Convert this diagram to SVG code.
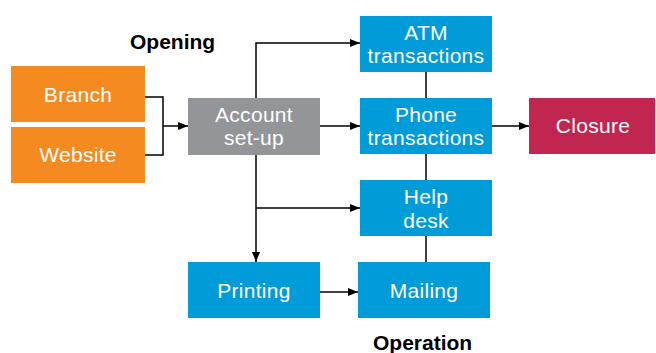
<svg xmlns="http://www.w3.org/2000/svg" width="656" height="353" viewBox="0 0 656 353">
<style>
.box text{font-family:"Liberation Sans",Arial,sans-serif;font-size:21px;letter-spacing:0.3px;fill:#fff;text-anchor:middle}
.orange{fill:#F58A21}
.blue{fill:#009BD9}
.gray{fill:#939598}
.red{fill:#C12651}
.lbl{font-family:"Liberation Sans",Arial,sans-serif;font-size:21px;font-weight:bold;fill:#000}
.conn path{fill:none;stroke:#000;stroke-width:1.5}
</style>
<defs>
<marker id="arr" viewBox="0 0 10 8" refX="10" refY="4" markerWidth="10" markerHeight="8" markerUnits="userSpaceOnUse" orient="auto">
<path d="M0,0 L10,4 L0,8 Z" fill="#000"/>
</marker>
</defs>
<rect width="656" height="353" fill="#fff"/>
<g class="conn">
<path d="M145,97 H163 V155 H145"/>
<path d="M163,126 H188" marker-end="url(#arr)"/>
<path d="M320,126 H360" marker-end="url(#arr)"/>
<path d="M256,98 V43 H360" marker-end="url(#arr)"/>
<path d="M256,155 V262" marker-end="url(#arr)"/>
<path d="M256,208 H360" marker-end="url(#arr)"/>
<path d="M320,292 H358" marker-end="url(#arr)"/>
<path d="M492,126 H529" marker-end="url(#arr)"/>
<path d="M426,72 V98"/>
<path d="M426,154 V180"/>
<path d="M426,236 V262"/>
</g>
<g id="branch" class="box"><rect class="orange" x="11" y="66" width="134" height="56"/><text x="78" y="102">Branch</text></g>
<g id="website" class="box"><rect class="orange" x="11" y="127" width="134" height="56"/><text x="78" y="162">Website</text></g>
<g id="account" class="box"><rect class="gray" x="188" y="98" width="132" height="57"/><text x="254" y="122">Account</text><text x="254" y="145">set-up</text></g>
<g id="atm" class="box"><rect class="blue" x="360" y="16" width="132" height="56"/><text x="426" y="39.5">ATM</text><text x="426" y="63">transactions</text></g>
<g id="phone" class="box"><rect class="blue" x="360" y="98" width="132" height="56"/><text x="426" y="122">Phone</text><text x="426" y="145">transactions</text></g>
<g id="helpdesk" class="box"><rect class="blue" x="360" y="180" width="132" height="56"/><text x="426" y="203.5">Help</text><text x="426" y="227.5">desk</text></g>
<g id="printing" class="box"><rect class="blue" x="188" y="262" width="132" height="56"/><text x="254" y="297.5">Printing</text></g>
<g id="mailing" class="box"><rect class="blue" x="358" y="262" width="132" height="56"/><text x="424" y="297.5">Mailing</text></g>
<g id="closure" class="box"><rect class="red" x="529" y="98" width="126" height="56"/><text x="593" y="132.5">Closure</text></g>
<text class="lbl" x="130" y="48.5">Opening</text>
<text class="lbl" x="373" y="350">Operation</text>
</svg>
